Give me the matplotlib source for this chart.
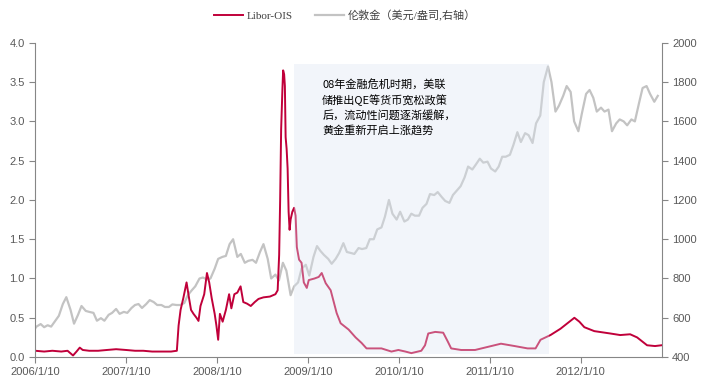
import matplotlib
matplotlib.use('Agg')
import matplotlib.pyplot as plt
import matplotlib.dates as mdates
from matplotlib.font_manager import FontProperties
import pandas as pd

plt.rcParams['font.family'] = ['Liberation Sans', 'Noto Sans CJK SC']

# Libor-OIS spread (%)
libor_dates = [
    '2006-01-10', '2006-02-15', '2006-03-20', '2006-04-25', '2006-05-20', '2006-06-11',
    '2006-06-25', '2006-07-08', '2006-07-20', '2006-08-15', '2006-09-20', '2006-10-25',
    '2006-12-01', '2007-01-10', '2007-02-15', '2007-03-20', '2007-04-25', '2007-06-01',
    '2007-07-10', '2007-08-02', '2007-08-09', '2007-08-17', '2007-08-28', '2007-09-10',
    '2007-09-20', '2007-09-28', '2007-10-08', '2007-10-20', '2007-10-28', '2007-11-05',
    '2007-11-20', '2007-12-01', '2007-12-10', '2007-12-20', '2008-01-01', '2008-01-08',
    '2008-01-15', '2008-01-22', '2008-02-02', '2008-02-15', '2008-02-28', '2008-03-08',
    '2008-03-20', '2008-04-01', '2008-04-14', '2008-04-25', '2008-05-10', '2008-05-25',
    '2008-06-10', '2008-06-25', '2008-07-15', '2008-08-10', '2008-09-01', '2008-09-10',
    '2008-09-16', '2008-09-20', '2008-09-24', '2008-09-29', '2008-10-02', '2008-10-06',
    '2008-10-09', '2008-10-12', '2008-10-16', '2008-10-20', '2008-10-24', '2008-10-28',
    '2008-11-01', '2008-11-08', '2008-11-15', '2008-11-21', '2008-11-26', '2008-12-05',
    '2008-12-15', '2008-12-24', '2009-01-05', '2009-01-13', '2009-02-05', '2009-02-22',
    '2009-03-06', '2009-03-22', '2009-04-11', '2009-05-05', '2009-05-21', '2009-06-22',
    '2009-07-20', '2009-08-13', '2009-09-02', '2009-10-01', '2009-11-01', '2009-12-11',
    '2010-01-08', '2010-02-05', '2010-03-01', '2010-04-10', '2010-04-25', '2010-05-08',
    '2010-06-05', '2010-07-07', '2010-07-25', '2010-08-08', '2010-09-17', '2010-11-12',
    '2011-01-03', '2011-02-24', '2011-04-20', '2011-06-11', '2011-07-13', '2011-08-02',
    '2011-09-11', '2011-10-21', '2011-11-26', '2011-12-16', '2012-01-05', '2012-01-25',
    '2012-03-05', '2012-05-08', '2012-06-17', '2012-07-27', '2012-08-24', '2012-10-03',
    '2012-11-04', '2012-11-30',
]
libor_values = [
    0.08, 0.07, 0.08, 0.07, 0.08, 0.02,
    0.07, 0.12, 0.09, 0.08, 0.08, 0.09,
    0.10, 0.09, 0.08, 0.08, 0.07, 0.07,
    0.07, 0.08, 0.40, 0.60, 0.75, 0.95,
    0.75, 0.60, 0.55, 0.50, 0.46, 0.65,
    0.80, 1.07, 0.95, 0.75, 0.55, 0.40,
    0.22, 0.55, 0.45, 0.60, 0.80, 0.62,
    0.80, 0.82, 0.90, 0.70, 0.68, 0.65,
    0.70, 0.74, 0.76, 0.77, 0.80, 0.85,
    1.30, 2.00, 2.90, 3.40, 3.65, 3.60,
    3.45, 2.80, 2.65, 2.40, 1.85, 1.62,
    1.75, 1.85, 1.90, 1.80, 1.40, 1.24,
    1.20, 0.95, 0.88, 0.98, 1.00, 1.02,
    1.07, 0.94, 0.85, 0.56, 0.43, 0.35,
    0.25, 0.18, 0.11, 0.11, 0.11, 0.07,
    0.09, 0.07, 0.05, 0.08, 0.15, 0.30,
    0.32, 0.31, 0.20, 0.11, 0.09, 0.09,
    0.13, 0.17, 0.14, 0.11, 0.11, 0.22,
    0.28, 0.36, 0.45, 0.50, 0.45, 0.38,
    0.33, 0.30, 0.28, 0.29, 0.25, 0.15,
    0.14, 0.15,
]

# London gold (USD/oz), twice a month
gold_start = '2006-01-01'
gold_values = [
    530, 555, 568, 552, 562, 555, 585, 610, 670, 705, 640, 570,
    615, 660, 635, 630, 625, 585, 598, 585, 615, 625, 645, 620,
    630, 625, 650, 665, 670, 650, 670, 690, 680, 665, 665, 655,
    655, 668, 665, 665, 675, 715, 740, 760, 800, 805, 795, 800,
    850, 900, 910, 915, 975, 1000, 910, 925, 880, 890, 895, 880,
    935, 975, 900, 800, 820, 790, 880, 840, 715, 760, 780, 850,
    870, 815, 910, 965, 940, 920, 900, 875, 900, 930, 980, 935,
    930, 925, 955, 950, 955, 1000, 1000, 1050, 1060, 1115, 1200, 1130,
    1100, 1140, 1090, 1100, 1130, 1120, 1120, 1160, 1180, 1230, 1225, 1240,
    1215, 1195, 1185, 1225, 1250, 1270, 1315, 1370, 1355, 1380, 1410, 1390,
    1395, 1360, 1345, 1370, 1420, 1420, 1430, 1480, 1545, 1495, 1540, 1530,
    1490, 1590, 1630, 1800, 1880, 1800, 1650, 1680, 1730, 1780, 1750, 1600,
    1550, 1640, 1740, 1760, 1720, 1650, 1670, 1650, 1660, 1550, 1590, 1610,
    1600, 1580, 1610, 1600, 1695, 1770, 1780, 1740, 1700, 1730,
]

shade_start, shade_end = '2008-11-15', '2011-09-05'
note = '08年金融危机时期，美联\n储推出QE等货币宽松政策\n后，流动性问题逐渐缓解，\n黄金重新开启上涨趋势'
tick_dates = ['2006-01-10', '2007-01-10', '2008-01-10', '2009-01-10',
              '2010-01-10', '2011-01-10', '2012-01-10']
tick_labels = ['2006/1/10', '2007/1/10', '2008/1/10', '2009/1/10',
               '2010/1/10', '2011/1/10', '2012/1/10']

libor_x = pd.to_datetime(libor_dates)
gold_x = pd.date_range(gold_start, periods=len(gold_values), freq='SMS')

fig = plt.figure(figsize=(7.04, 3.86), dpi=100)
ax = fig.add_axes([0.050, 0.075, 0.890, 0.814])
ax2 = ax.twinx()
ax.set_zorder(ax2.get_zorder() + 1)
ax.patch.set_visible(False)

g_line, = ax2.plot(gold_x, gold_values, color='#C3C3C3', lw=1.6, label='伦敦金（美元/盎司,右轴）')
l_line, = ax.plot(libor_x, libor_values, color='#C0003A', lw=1.4, label='Libor-OIS')

# shaded period, laid over both lines
s0, s1 = mdates.date2num(pd.Timestamp(shade_start)), mdates.date2num(pd.Timestamp(shade_end))
ax.fill_between([s0, s1], 0.04, 3.73, color='#DCE6F2', alpha=0.36, lw=0, zorder=5)

ax.text(0.458, 0.885, note, transform=ax.transAxes, fontsize=8, va='top', ha='left',
        family=['Noto Sans CJK SC'], linespacing=1.45, zorder=6)

ax.set_xlim(pd.Timestamp('2006-01-10'), pd.Timestamp('2012-12-01'))
ax.set_ylim(0, 4.0)
ax2.set_ylim(400, 2000)
ax.set_yticks([0, 0.5, 1.0, 1.5, 2.0, 2.5, 3.0, 3.5, 4.0])
ax.yaxis.set_major_formatter(plt.FormatStrFormatter('%.1f'))
ax2.set_yticks(range(400, 2001, 200))
ax.set_xticks(pd.to_datetime(tick_dates))
ax.set_xticklabels(tick_labels)

for a in (ax, ax2):
    a.spines['top'].set_visible(False)
    for s in ('left', 'right', 'bottom'):
        a.spines[s].set_color('#868686')
    a.tick_params(colors='#868686', labelcolor='#595959', labelsize=8, length=4, width=0.8)
ax.spines['right'].set_visible(False)
ax2.spines['left'].set_visible(False)
ax2.spines['bottom'].set_visible(False)

leg_font = FontProperties(family=['Liberation Serif', 'Noto Sans CJK SC'], size=8)
fig.legend(handles=[l_line, g_line], loc='upper center', bbox_to_anchor=(0.49, 1.0),
           ncol=2, frameon=False, prop=leg_font, labelcolor='#404040',
           handlelength=2.6, columnspacing=2.0, handletextpad=0.3)

fig.savefig('out.png', dpi=100)
